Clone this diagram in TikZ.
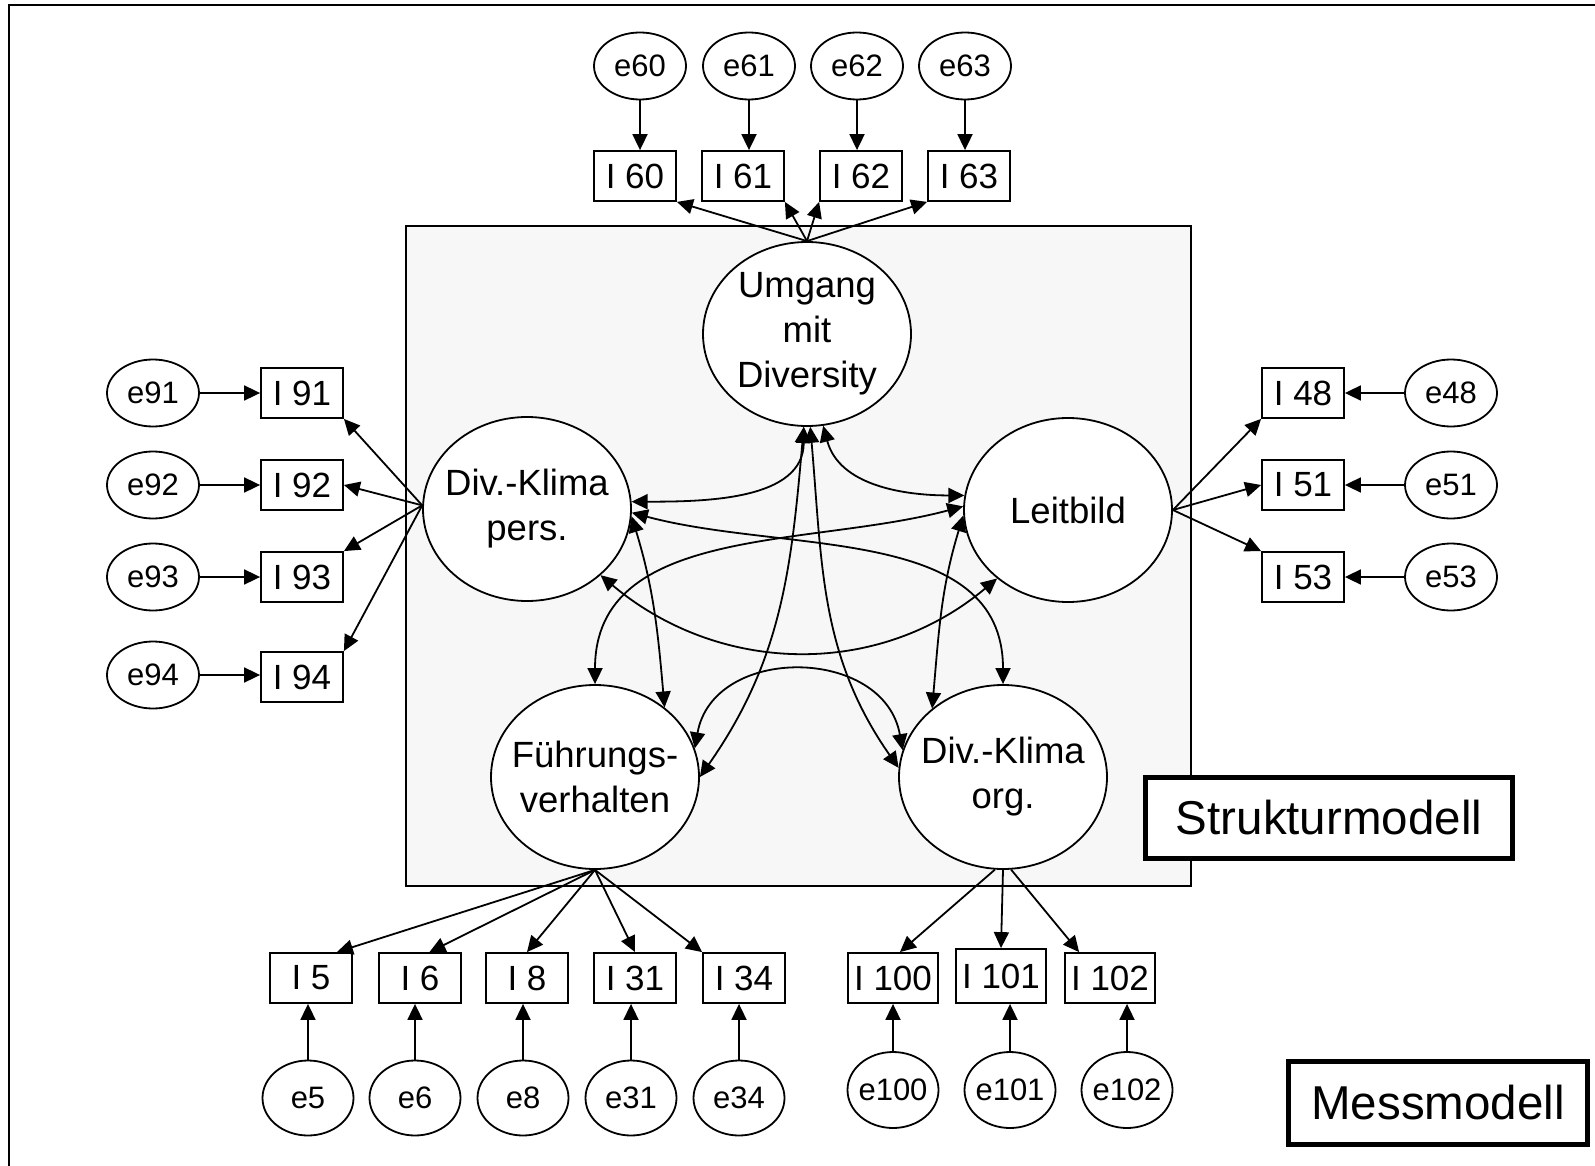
\documentclass[tikz,border=0pt]{standalone}
\usepackage{fontspec}
\setmainfont{Liberation Sans}
\usepackage{xcolor}
\usetikzlibrary{shapes.geometric}
\usetikzlibrary{arrows.meta}
\definecolor{boxgrey}{HTML}{F7F7F7}

\begin{document}
\begin{tikzpicture}[x=0.5pt, y=-0.5pt, line width=0.9pt,
    >={Triangle[length=8pt,width=7.5pt]},
    err/.style={ellipse, draw, fill=white, minimum width=46pt, minimum height=33.5pt, inner sep=0pt, font=\fontsize{15.5}{18}\selectfont},
    errb/.style={err, minimum width=45.5pt, minimum height=37.5pt, inner xsep=-2pt},
    ind/.style={rectangle, draw, fill=white, minimum width=41pt, minimum height=25pt, inner sep=0pt, font=\fontsize{17.5}{20}\selectfont},
    indw/.style={ind, minimum width=45pt},
    latent/.style={ellipse, draw, fill=white, minimum width=104pt, minimum height=92pt, inner sep=0pt},
    lattext/.style={align=center, font=\fontsize{18.25}{22.5}\selectfont},
    model/.style={rectangle, draw, fill=white, line width=2.5pt, inner sep=0pt, font=\fontsize{23.75}{28}\selectfont}]
    \useasboundingbox (0,0) rectangle (1595,1166);
    % Frame and structural model area
    \draw[line width=1pt] (1610,5) -- (9,5) -- (9,1180);
    \draw[fill=boxgrey, line width=0.75pt] (406,226) rectangle (1191,886);

    % Latent variables
    \node[latent, label={[lattext]center:Umgang\\mit\\Diversity}] (umg) at (807,334) {};
    \node[latent, label={[lattext]center:Div.-Klima\\pers.}] (kp) at (527,509) {};
    \node[latent, label={[lattext]center:Leitbild}] (lb) at (1068,510) {};
    \node[latent, label={[lattext]center:Führungs-\\verhalten}] (fv) at (595,777) {};
    \node[latent, label={[lattext]center:Div.-Klima\\org.}] (ko) at (1003,777) {};

    % Indicators and errors: top
    \foreach \n/\x/\xi in {60/640/635, 61/749/743, 62/857/861, 63/965/969} {
        \node[err] (e\n) at (\x,66) {e\n};
        \node[ind] (I\n) at (\xi,176) {I \n};
        \draw[->] (e\n) -- (e\n |- I\n.north);
    }
    % left
    \foreach \n/\y/\yi in {91/393/393, 92/485/485, 93/577/577, 94/675/677} {
        \node[err] (e\n) at (153,\y) {e\n};
        \node[ind] (I\n) at (302,\yi) {I \n};
        \draw[->] (e\n) -- (e\n -| I\n.west);
    }
    % right
    \foreach \n/\y in {48/393, 51/485, 53/577} {
        \node[err] (e\n) at (1451,\y) {e\n};
        \node[ind] (I\n) at (1303,\y) {I \n};
        \draw[->] (e\n) -- (I\n);
    }
    % bottom
    \foreach \n/\x/\xi in {5/308/311, 6/415/420, 8/523/527, 31/631/635, 34/739/744} {
        \node[errb] (e\n) at (\x,1098) {e\n};
        \node[ind] (I\n) at (\xi,978) {I \n};
        \draw[->] (e\n) -- (e\n |- I\n.south);
    }
    \node[indw] (I100) at (893,978) {I 100};
    \node[indw, minimum height=27pt] (I101) at (1001,976) {I 101};
    \node[indw] (I102) at (1110,978) {I 102};
    \foreach \n/\x in {100/893, 101/1010, 102/1127} {
        \node[errb, minimum height=38pt] (e\n) at (\x,1090) {e\n};
        \draw[->] (e\n) -- (e\n |- I\n.south);
    }

    % Loadings
    \draw[->] (umg.north) -- (I60.south east);
    \draw[->] (umg.north) -- (I61.south east);
    \draw[->] (umg.north) -- (I62.south west);
    \draw[->] (umg.north) -- (I63.south west);
    \draw[->] (kp.178) -- (I91.south east);
    \draw[->] (kp.178) -- (I92.east);
    \draw[->] (kp.178) -- (I93.north east);
    \draw[->] (kp.178) -- (I94.north east);
    \draw[->] (lb.east) -- (I48.south west);
    \draw[->] (lb.east) -- (I51.west);
    \draw[->] (lb.east) -- (I53.north west);
    \draw[->] (fv.south) -- (I5.45);
    \draw[->] (fv.south) -- (I6.70);
    \draw[->] (fv.south) -- (I8.north);
    \draw[->] (fv.south) -- (I31.north);
    \draw[->] (fv.south) -- (I34.north west);
    \draw[->] (ko.265) -- (I100.75);
    \draw[->] (ko.south) -- (I101.north);
    \draw[->] (ko.275) -- (I102.140);

    % Covariances
    \draw[<->] (umg.268) to[out=270, in=0] (kp.4);
    \draw[<->] (umg.280) to[out=285, in=180] (lb.172);
    \draw[<->] (kp.-2) to[out=-15, in=90] (ko.north);
    \draw[<->] (lb.178) to[out=195, in=90] (fv.north);
    \draw[<->] (kp.-42) to[out=-40, in=220] (lb.224);
    \draw[<->] (kp.-4) to[out=-73, in=95] (fv.45);
    \draw[<->] (lb.183) to[out=253, in=85] (ko.136);
    \draw[<->] (umg.268) to[out=265, in=55] (fv.0);
    \draw[<->] (umg.272) to[out=275, in=125] (ko.175);
    \draw[<->] (fv.16) to[out=80, in=100, looseness=1.3] (ko.165);

    % Model labels
    \node[model, minimum width=183.5pt, minimum height=40.5pt] (struk) at (1329,818) {Strukturmodell\hspace{8pt}};
    \node[model, minimum width=149.5pt, minimum height=41.5pt] (mess) at (1438,1103) {Messmodell};
\end{tikzpicture}
\end{document}
